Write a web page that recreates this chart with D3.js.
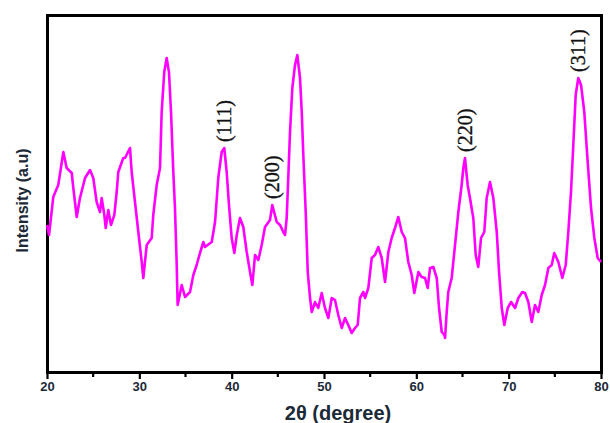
<!DOCTYPE html>
<html>
<head>
<meta charset="utf-8">
<script src="https://cdn.jsdelivr.net/npm/d3@7/dist/d3.min.js"></script>
<style>
  html, body { margin: 0; padding: 0; background: #fff; overflow: hidden; }
  svg { display: block; }
</style>
</head>
<body>
<svg id="chart" width="610" height="423"></svg>
<script>
// XRD pattern: diffraction angle 2θ (degree) and intensity (a.u.)
const twoTheta = [
  20.00, 20.22, 20.68, 21.22, 21.77, 22.13, 22.68, 22.85, 23.22, 23.57,
  24.12, 24.66, 25.01, 25.38, 25.74, 25.92, 26.21, 26.36, 26.64, 26.93,
  27.29, 27.55, 27.72, 28.26, 28.45, 28.99, 29.17, 29.53, 29.89, 30.26,
  30.43, 30.80, 31.34, 31.51, 31.88, 32.24, 32.42, 32.70, 32.96, 33.21,
  33.43, 33.68, 33.86, 34.04, 34.15, 34.59, 34.95, 35.49, 35.85, 36.21,
  36.57, 36.93, 37.11, 37.84, 38.20, 38.55, 38.92, 39.20, 39.46, 39.71,
  40.00, 40.29, 40.55, 40.90, 41.26, 41.63, 41.99, 42.24, 42.53, 42.89,
  43.25, 43.61, 44.15, 44.40, 44.88, 45.24, 45.59, 45.78, 45.96, 46.13,
  46.32, 46.57, 46.86, 47.11, 47.40, 47.59, 47.76, 48.02, 48.24, 48.49,
  48.67, 49.03, 49.38, 49.75, 50.11, 50.47, 50.84, 51.19, 51.55, 51.92,
  52.28, 52.63, 53.00, 53.36, 53.65, 53.90, 54.26, 54.44, 54.80, 55.17,
  55.52, 55.88, 56.25, 56.61, 56.97, 57.33, 57.69, 58.05, 58.42, 58.77,
  59.13, 59.50, 59.78, 60.22, 60.58, 60.94, 61.23, 61.48, 61.84, 62.21,
  62.46, 62.75, 63.03, 63.11, 63.29, 63.46, 63.83, 64.19, 64.55, 64.91,
  65.09, 65.27, 65.56, 65.81, 66.17, 66.43, 66.71, 67.01, 67.36, 67.62,
  67.98, 68.34, 68.71, 68.96, 69.25, 69.53, 69.90, 70.26, 70.69, 71.05,
  71.48, 71.77, 72.13, 72.50, 72.85, 73.21, 73.58, 73.94, 74.30, 74.66,
  74.94, 75.38, 75.81, 76.18, 76.46, 76.75, 77.00, 77.26, 77.54, 77.84,
  78.19, 78.56, 78.92, 79.28, 79.64, 80.00
];
const intensity = [
  147, 137, 175, 187, 220, 204, 199, 184, 155, 174,
  194, 202, 194, 170, 160, 174, 157, 144, 162, 147,
  157, 180, 200, 214, 214, 224, 200, 170, 140, 110,
   94, 127, 134, 157, 187, 204, 260, 300, 314, 300,
  260, 200, 164, 110,  67,  87,  75,  80,  97, 107,
  119, 130, 125, 130, 150, 194, 220, 224, 200, 167,
  134, 119, 137, 154, 145, 120, 100,  87, 117, 112,
  127, 145, 152, 167, 150, 147, 140, 137, 154, 194,
  240, 284, 307, 317, 294, 260, 217, 160, 100,  74,
   60,  70,  64,  79,  64,  54,  74,  72,  57,  44,
   54,  47,  39,  44,  47,  74,  80,  74,  84, 114,
  117, 125, 114,  90, 120, 134, 144, 155, 140, 134,
  110,  97,  79, 100,  95,  94,  84, 104, 105,  94,
   64,  40,  37,  34,  60,  80,  94, 127, 160, 187,
  204, 214, 187, 174, 154, 117, 105, 134, 140, 174,
  190, 174, 140, 100,  64,  47,  64,  70,  64,  74,
   80,  79,  70,  50,  67,  60,  77,  87, 104, 107,
  119, 110,  94, 107, 140, 180, 227, 277, 294, 287,
  260, 210, 164, 134, 114, 110
];

// Miller indices of the indexed reflections
const peakLabels = ["(111)", "(200)", "(220)", "(311)"];
const peakAngles = [39.17, 44.40, 65.27, 77.50];

const xTicks = [20, 30, 40, 50, 60, 70, 80];
const xMinorTicks = [25, 35, 45, 55, 65, 75];

const svg = d3.select("#chart");
const plotLeft = 47, plotRight = 601, plotTop = 15, plotBottom = 372;

const x = d3.scaleLinear().domain([20, 80]).range([plotLeft, plotRight]);
const y = d3.scaleLinear().domain([0, 357]).range([plotBottom, plotTop]);

const data = twoTheta.map((t, i) => ({ t, v: intensity[i] }));

// plot frame as four solid bars on whole pixels
const bar = 3;
const bars = [
  [plotLeft - 1, plotTop - 1, plotRight - plotLeft + bar, bar],
  [plotLeft - 1, plotBottom - 1, plotRight - plotLeft + bar, bar],
  [plotLeft - 1, plotTop - 1, bar, plotBottom - plotTop + bar],
  [plotRight - 1, plotTop - 1, bar, plotBottom - plotTop + bar]
];
svg.append("g").selectAll("rect")
  .data(bars)
  .join("rect")
  .attr("x", d => d[0]).attr("y", d => d[1])
  .attr("width", d => d[2]).attr("height", d => d[3])
  .attr("fill", "#000");

// pattern trace
svg.append("path")
  .datum(data)
  .attr("fill", "none")
  .attr("stroke", "#ff00ff")
  .attr("stroke-width", 2.6)
  .attr("stroke-linejoin", "round")
  .attr("d", d3.line().x(d => x(d.t)).y(d => y(d.v)));

// bottom axis with major and minor ticks
const axis = svg.append("g").attr("transform", `translate(0,${plotBottom})`);
axis.call(d3.axisBottom(x).tickValues(xTicks).tickSize(7).tickPadding(3).tickFormat(d3.format("d")))
  .call(g => g.select(".domain").remove())
  .call(g => g.selectAll(".tick line").attr("stroke", "#000").attr("stroke-width", 2.2))
  .call(g => g.selectAll(".tick text")
    .attr("font-family", "Liberation Sans, Arial, sans-serif")
    .attr("font-weight", "bold")
    .attr("font-size", 13)
    .attr("fill", "#1c2a38"));
axis.selectAll(".minor")
  .data(xMinorTicks)
  .join("line")
  .attr("class", "minor")
  .attr("x1", d => x(d)).attr("x2", d => x(d))
  .attr("y1", 0).attr("y2", 5)
  .attr("stroke", "#000").attr("stroke-width", 2.2);

// axis titles
svg.append("text")
  .attr("x", 338).attr("y", 420)
  .attr("text-anchor", "middle")
  .attr("font-family", "Liberation Sans, Arial, sans-serif")
  .attr("font-weight", "bold")
  .attr("font-size", 20)
  .attr("fill", "#1c2a38")
  .text("2θ (degree)");

svg.append("text")
  .attr("transform", `translate(28,${(plotTop + plotBottom) / 2 + 7}) rotate(-90)`)
  .attr("text-anchor", "middle")
  .attr("font-family", "Liberation Sans, Arial, sans-serif")
  .attr("font-weight", "bold")
  .attr("font-size", 16)
  .attr("fill", "#1c2a38")
  .text("Intensity (a.u)");

// reflection labels, placed above the local maximum of each peak
peakLabels.forEach((lab, i) => {
  const a = peakAngles[i];
  const near = data.filter(d => Math.abs(d.t - a) < 0.5);
  const peakTop = d3.max(near, d => d.v);
  svg.append("text")
    .attr("transform", `translate(${x(a)},${y(peakTop) - 6}) rotate(-90)`)
    .attr("text-anchor", "start")
    .attr("dominant-baseline", "central")
    .attr("font-family", "Liberation Serif, Times New Roman, serif")
    .attr("font-size", 20)
    .attr("fill", "#111")
    .attr("stroke", "#111")
    .attr("stroke-width", 0.35)
    .text(lab);
});
</script>
</body>
</html>
